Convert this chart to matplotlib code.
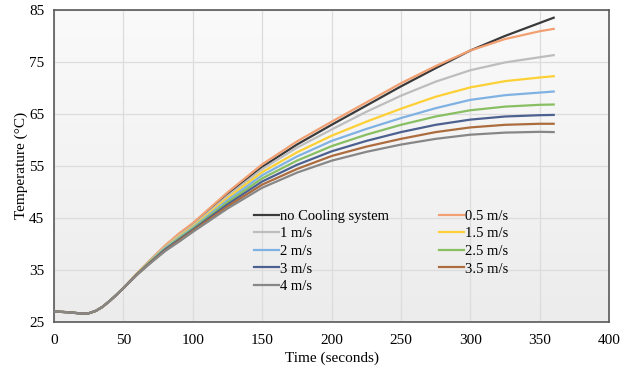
import numpy as np
import matplotlib
matplotlib.use("Agg")
import matplotlib.pyplot as plt
from matplotlib.colors import LinearSegmentedColormap

plt.rcParams['font.family'] = ['Liberation Serif', 'DejaVu Serif']

# Time axis (seconds)
time = [0, 10, 20, 25, 30, 35, 40, 45, 50, 60, 70, 80, 90, 100, 125, 150,
        175, 200, 225, 250, 275, 300, 325, 350, 360]

# Temperatures (deg C)
no_cooling = [27.0, 26.85, 26.6, 26.65, 27.1, 27.9, 29.0, 30.2, 31.5, 34.3, 37.0, 39.5, 41.8, 43.8,
              49.5, 54.8, 59.1, 62.9, 66.6, 70.3, 73.8, 77.2, 80.0, 82.5, 83.5]
v05 = [27.0, 26.85, 26.6, 26.65, 27.1, 27.9, 29.0, 30.2, 31.5, 34.4, 37.1, 39.7, 42.0, 44.0,
       49.9, 55.3, 59.7, 63.5, 67.2, 70.9, 74.2, 77.2, 79.4, 80.9, 81.35]
v1 = [27.0, 26.85, 26.6, 26.65, 27.1, 27.9, 29.0, 30.2, 31.5, 34.3, 37.0, 39.4, 41.6, 43.5,
      49.2, 54.4, 58.5, 62.0, 65.4, 68.5, 71.2, 73.4, 74.9, 75.9, 76.3]
v15 = [27.0, 26.85, 26.6, 26.65, 27.1, 27.9, 29.0, 30.2, 31.5, 34.3, 36.9, 39.3, 41.4, 43.3,
       48.8, 53.8, 57.6, 60.8, 63.5, 66.0, 68.3, 70.1, 71.3, 72.0, 72.25]
v2 = [27.0, 26.85, 26.6, 26.65, 27.1, 27.9, 29.0, 30.2, 31.5, 34.2, 36.8, 39.2, 41.2, 43.1,
      48.4, 53.2, 56.8, 59.8, 62.1, 64.2, 66.1, 67.7, 68.6, 69.1, 69.3]
v25 = [27.0, 26.85, 26.6, 26.65, 27.1, 27.9, 29.0, 30.2, 31.5, 34.2, 36.7, 39.0, 41.0, 42.9,
       48.0, 52.6, 56.0, 58.8, 61.0, 62.9, 64.5, 65.7, 66.4, 66.75, 66.8]
v3 = [27.0, 26.85, 26.6, 26.65, 27.1, 27.9, 29.0, 30.2, 31.5, 34.2, 36.6, 38.9, 40.8, 42.7,
      47.6, 52.0, 55.2, 57.8, 59.8, 61.5, 62.9, 63.9, 64.5, 64.75, 64.8]
v35 = [27.0, 26.85, 26.6, 26.65, 27.1, 27.9, 29.0, 30.2, 31.5, 34.1, 36.5, 38.7, 40.6, 42.5,
       47.2, 51.4, 54.4, 56.9, 58.7, 60.2, 61.5, 62.4, 62.9, 63.1, 63.1]
v4 = [27.0, 26.85, 26.6, 26.65, 27.1, 27.9, 29.0, 30.2, 31.5, 34.1, 36.4, 38.6, 40.4, 42.3,
      46.8, 50.8, 53.7, 56.0, 57.7, 59.1, 60.2, 61.0, 61.4, 61.55, 61.5]

labels = ["no Cooling system", "0.5 m/s", "1 m/s", "1.5 m/s", "2 m/s",
          "2.5 m/s", "3 m/s", "3.5 m/s", "4 m/s"]
series = [no_cooling, v05, v1, v15, v2, v25, v3, v35, v4]
colors = ['#3a3a3a', '#F2A072', '#BDBDBD', '#FDD035', '#7FB2E2',
          '#88BF62', '#4C6190', '#AC6C3E', '#878787']

fig = plt.figure(figsize=(6.21, 3.67), dpi=100)
ax = fig.add_axes([0.087, 0.123, 0.894, 0.85])

# light gray gradient background
grad = np.linspace(0, 1, 100).reshape(-1, 1)
bg = LinearSegmentedColormap.from_list("bg", ["#fafafa", "#ececec"])
ax.imshow(grad, extent=[0, 1, 0, 1], transform=ax.transAxes, cmap=bg,
          aspect='auto', zorder=0)

handles = []
for y, lab, c in zip(series, labels, colors):
    h, = ax.plot(time, y, color=c, lw=1.6, label=lab, zorder=3,
                 solid_joinstyle='round')
    handles.append(h)

ax.set_xlim(0, 400)
ax.set_ylim(25, 85)
ax.set_xticks(range(0, 401, 50))
ax.set_yticks(range(25, 86, 10))
ax.grid(True, color='#dcdcdc', lw=0.9, zorder=1)
ax.set_axisbelow(True)
ax.tick_params(axis='x', length=0, labelsize=11, pad=9)
ax.tick_params(axis='y', length=0, labelsize=11, pad=7)
for s in ax.spines.values():
    s.set_color('#5a5a5a')
    s.set_linewidth(1.2)

ax.set_xlabel("Time (seconds)", fontsize=11, labelpad=3)
ax.set_ylabel("Temperature (°C)", fontsize=11, labelpad=1)

# legend in two columns, row-wise ordering
order = [0, 2, 4, 6, 8, 1, 3, 5, 7]
ax.legend([handles[i] for i in order], [labels[i] for i in order], ncol=2,
          frameon=False, fontsize=10.5, loc='upper left', bbox_to_anchor=(0.36, 0.36),
          handlelength=1.7, handletextpad=0.1, columnspacing=3.4, labelspacing=0.3,
          borderaxespad=0, borderpad=0)

fig.savefig("out.png", dpi=100)
